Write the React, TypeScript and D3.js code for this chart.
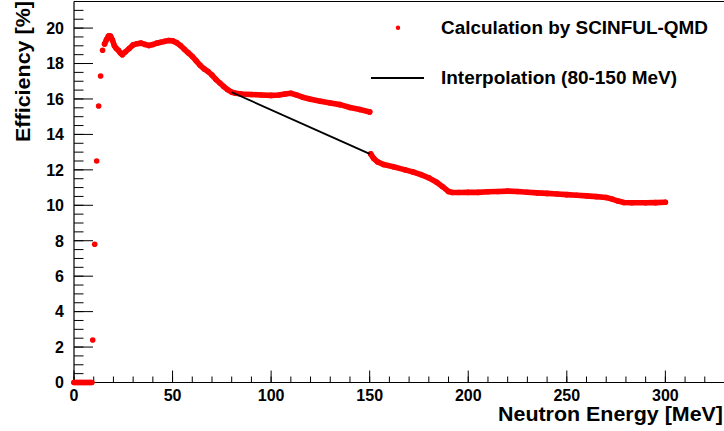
import React from 'react';
import * as d3 from 'd3';

// ゼロ領域 (しきい値以下)
const zeroEnergy = [0, 1, 2, 3, 4, 5, 6, 7, 8, 9];
const zeroEff = [0, 0, 0, 0, 0, 0, 0, 0, 0, 0];

// 立ち上がり部分 (離れた点)
const riseEnergy = [9.5, 10.5, 11.5, 12.5, 13.5, 14.5];
const riseEff = [2.4, 7.8, 12.5, 15.6, 17.3, 18.75];

// SCINFUL-QMD 計算 15-150 MeV
const calcEnergy = [
  15.5, 16.5, 17.5, 18.5, 19.5, 20.5, 21.5, 22.5, 23.5, 24.5, 26, 28, 30, 32, 34, 36, 38, 40,
  42, 44, 46, 48, 50, 52, 54, 56, 58, 60, 62, 64, 66, 68, 70, 72, 74, 76, 78, 80, 82, 85, 90,
  95, 100, 104, 107, 110, 113, 116, 120, 125, 130, 135, 140, 145, 150,
];
const calcEff = [
  19.1, 19.35, 19.55, 19.55, 19.32, 19.0, 18.85, 18.75, 18.6, 18.5, 18.65, 18.85, 19.05, 19.12,
  19.15, 19.08, 19.02, 19.07, 19.15, 19.2, 19.25, 19.3, 19.28, 19.18, 19.02, 18.8, 18.6, 18.4,
  18.15, 17.9, 17.7, 17.55, 17.35, 17.1, 16.9, 16.7, 16.52, 16.38, 16.32, 16.28, 16.25, 16.22,
  16.2, 16.22, 16.28, 16.32, 16.22, 16.1, 15.98, 15.87, 15.77, 15.68, 15.52, 15.4, 15.27,
];

// SCINFUL-QMD 計算 150-300 MeV
const highEnergy = [
  150.5, 152, 154, 157, 162, 168, 172, 176, 180, 184, 187, 190, 192, 195, 200, 205, 210, 215,
  220, 225, 230, 235, 240, 245, 250, 255, 260, 265, 270, 273, 276, 279, 283, 290, 295, 300,
];
const highEff = [
  12.9, 12.65, 12.45, 12.3, 12.17, 12.0, 11.88, 11.73, 11.55, 11.3, 11.05, 10.78, 10.72, 10.72,
  10.73, 10.73, 10.76, 10.78, 10.8, 10.78, 10.74, 10.7, 10.67, 10.64, 10.6, 10.57, 10.53, 10.49,
  10.44, 10.35, 10.24, 10.16, 10.14, 10.14, 10.15, 10.17,
];

// 内挿 (80-150 MeV)
const interpEnergy = [80, 150];
const interpEff = [16.38, 12.9];

const xTickLabels = [0, 50, 100, 150, 200, 250, 300];
const yTickLabels = [0, 2, 4, 6, 8, 10, 12, 14, 16, 18, 20];

const legendLabels = ['Calculation by SCINFUL-QMD', 'Interpolation (80-150 MeV)'];

const W = 724;
const H = 431;
const left = 74;
const top = 1.5;
const bottom = 382.5;
const right = 724.5;
const font = '"Liberation Sans", Arial, Helvetica, sans-serif';

const App: React.FC = () => {
  const x = d3.scaleLinear().domain([0, 330]).range([left, right]);
  const y = d3.scaleLinear().domain([0, 21.5]).range([bottom, top]);

  const toPts = (es: number[], vs: number[]) => es.map((e, i) => [e, vs[i]] as [number, number]);
  const line = d3.line<[number, number]>().x(d => x(d[0])).y(d => y(d[1]));

  const zeroPts = toPts(zeroEnergy, zeroEff);
  const risePts = toPts(riseEnergy, riseEff);
  const calcPts = toPts(calcEnergy, calcEff);
  const highPts = toPts(highEnergy, highEff);
  const interpPts = toPts(interpEnergy, interpEff);

  const xMinor = x.ticks(33);
  const yMinor = y.ticks(43);
  const red = '#ff0000';
  const segs = [zeroPts, calcPts, highPts];

  return (
    <svg width={W} height={H} style={{ position: 'absolute', left: 0, top: 0, background: '#fff' }}
      fontFamily={font} fontWeight="bold">
      {/* 枠 */}
      <line x1={left} x2={right} y1={top} y2={top} stroke="#000" strokeWidth={1.2} />
      <line x1={left} x2={left} y1={top} y2={bottom} stroke="#000" strokeWidth={1.2} />
      <line x1={left} x2={right} y1={bottom} y2={bottom} stroke="#000" strokeWidth={1.2} />

      {/* x 軸の目盛 */}
      {xMinor.map(t => (
        <line key={'xm' + t} x1={x(t)} x2={x(t)} y1={bottom} y2={bottom - 6} stroke="#000" strokeWidth={1} />
      ))}
      {xTickLabels.map(t => (
        <g key={'xt' + t}>
          <line x1={x(t)} x2={x(t)} y1={bottom} y2={bottom - 12} stroke="#000" strokeWidth={1} />
          <text x={x(t)} y={bottom + 18.5} fontSize={16} textAnchor="middle" fill="#000">{t}</text>
        </g>
      ))}

      {/* y 軸の目盛 */}
      {yMinor.map(t => (
        <line key={'ym' + t} x1={left} x2={left + 9.5} y1={y(t)} y2={y(t)} stroke="#000" strokeWidth={1} />
      ))}
      {yTickLabels.map(t => (
        <g key={'yt' + t}>
          <line x1={left} x2={left + 19} y1={y(t)} y2={y(t)} stroke="#000" strokeWidth={1} />
          <text x={left - 10} y={y(t) + 5.8} fontSize={16} textAnchor="end" fill="#000">{t}</text>
        </g>
      ))}

      {/* 軸タイトル */}
      <text x={498} y={421} fontSize={20} fill="#000" textLength={225} lengthAdjust="spacingAndGlyphs">
        Neutron Energy [MeV]
      </text>
      <text transform={`translate(30,142) rotate(-90)`} fontSize={21} fill="#000" textLength={141}
        lengthAdjust="spacingAndGlyphs">Efficiency [%]</text>

      {/* データ */}
      {segs.map((s, i) => (
        <path key={'seg' + i} d={line(s) ?? ''} fill="none" stroke={red} strokeWidth={5.6}
          strokeLinecap="round" strokeLinejoin="round" />
      ))}
      {[...zeroPts, ...risePts, ...calcPts, ...highPts].map((d, i) => (
        <circle key={'p' + i} cx={x(d[0])} cy={y(d[1])} r={2.8} fill={red} />
      ))}
      <path d={line(interpPts) ?? ''} fill="none" stroke="#000" strokeWidth={1.8} />

      {/* 凡例 */}
      <circle cx={398} cy={27.7} r={2.2} fill={red} />
      <text x={441} y={34} fontSize={18} fill="#000" textLength={267} lengthAdjust="spacingAndGlyphs">
        {legendLabels[0]}
      </text>
      <line x1={371} x2={424} y1={78} y2={78} stroke="#000" strokeWidth={2} />
      <text x={441} y={84} fontSize={18} fill="#000" textLength={236} lengthAdjust="spacingAndGlyphs">
        {legendLabels[1]}
      </text>
    </svg>
  );
};

export default App;
